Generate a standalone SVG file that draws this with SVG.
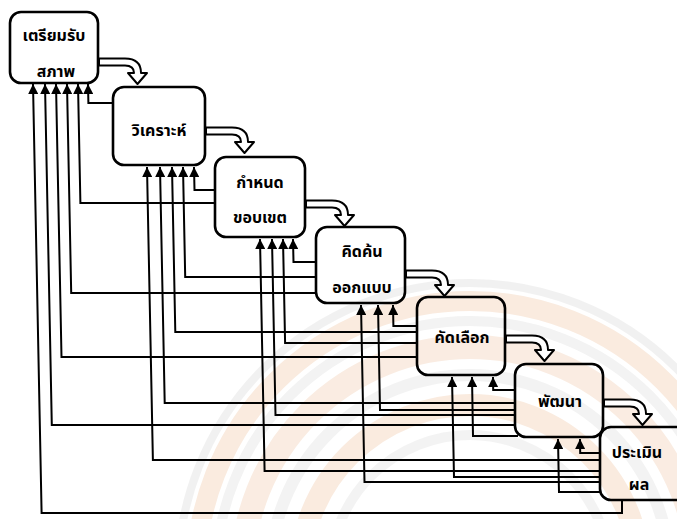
<svg xmlns="http://www.w3.org/2000/svg" width="677" height="519" viewBox="0 0 677 519">
<style>
.box{fill:none;stroke:#000;stroke-width:2.6}
.fb{fill:none;stroke:#000;stroke-width:2}
.lbl{font-family:"Noto Sans Thai","Noto Sans","DejaVu Sans",sans-serif;font-size:16px;font-weight:bold;text-anchor:middle;fill:#000}
.wm{fill:none}
</style>
<defs>
<marker id="ah" viewBox="0 0 10 10" refX="10" refY="5" markerWidth="11" markerHeight="10" markerUnits="userSpaceOnUse" orient="auto-start-reverse">
<path d="M0,0 L10,5 L0,10 z" fill="#000"/>
</marker>
<path id="flow" d="M0,-3.5 H26 Q42,-3.5 42,11 L48,11 L38.5,22 L29,11 L35,11 Q35,3.5 26,3.5 H0 Z" fill="#fff" stroke="#000" stroke-width="2" stroke-linejoin="round"/>
</defs>
<rect width="677" height="519" fill="#fff"/>
<g id="watermark" class="wm" opacity="0.7">
<circle cx="470" cy="575" r="292" stroke="#ececec" stroke-width="8"/>
<circle cx="470" cy="575" r="274" stroke="#f8e3d2" stroke-width="20"/>
<circle cx="470" cy="575" r="254" stroke="#eeeeee" stroke-width="10"/>
<circle cx="470" cy="575" r="228" stroke="#f8e5d6" stroke-width="24"/>
<circle cx="470" cy="575" r="200" stroke="#efefef" stroke-width="12"/>
<circle cx="470" cy="575" r="170" stroke="#f8e3d2" stroke-width="22"/>
<circle cx="470" cy="575" r="140" stroke="#efefef" stroke-width="10"/>
</g>
<g id="connectors">
<use href="#flow" transform="translate(99,62)"/>
<use href="#flow" transform="translate(206,131)"/>
<use href="#flow" transform="translate(306,204)"/>
<use href="#flow" transform="translate(406,274)"/>
<use href="#flow" transform="translate(506,339)"/>
<use href="#flow" transform="translate(604,403)"/>
<g marker-start="url(#ah)">
<path class="fb" d="M88,84 L88.4,103 L113,103"/>
<path class="fb" d="M78,84 L80.4,203 L215,203"/>
<path class="fb" d="M67,84 L71.2,293 L316,293"/>
<path class="fb" d="M56,84 L61.5,357 L417,357"/>
<path class="fb" d="M45,84 L51.8,425 L515,425"/>
<path class="fb" d="M33,84 L41.6,513 L622,513 L622,500"/>
<path class="fb" d="M194,167 L194.5,190 L215,190"/>
<path class="fb" d="M183,167 L185.2,277 L316,277"/>
<path class="fb" d="M172,167 L175.3,332 L417,332"/>
<path class="fb" d="M160,167 L164.7,403 L515,403"/>
<path class="fb" d="M147,167 L152.9,460 L600,460"/>
<path class="fb" d="M293,239 L293.5,262 L316,262"/>
<path class="fb" d="M283,239 L285.1,343 L417,343"/>
<path class="fb" d="M272,239 L275.5,415 L515,415"/>
<path class="fb" d="M260,239 L264.6,471 L600,471"/>
<path class="fb" d="M393,305 L393.4,326 L417,326"/>
<path class="fb" d="M378,305 L380,410 L515,410"/>
<path class="fb" d="M361,305 L364.5,482 L600,482"/>
<path class="fb" d="M493,377 L493.2,390 L515,390"/>
<path class="fb" d="M472,377 L473,436 L518,436"/>
<path class="fb" d="M452,377 L454,477 L600,477"/>
<path class="fb" d="M580,439 L580.2,453 L600,453"/>
<path class="fb" d="M558,439 L559,492 L600,492"/>
</g>
</g>
<g id="n1"><rect class="box" x="10" y="12" width="88" height="71" rx="11"/><text class="lbl" x="54" y="41">เตรียมรับ</text><text class="lbl" x="56" y="77">สภาพ</text></g>
<g id="n2"><rect class="box" x="113" y="87" width="92" height="78" rx="11"/><text class="lbl" x="159" y="136">วิเคราะห์</text></g>
<g id="n3"><rect class="box" x="215" y="157" width="90" height="80" rx="11"/><text class="lbl" x="260" y="188">กำหนด</text><text class="lbl" x="260" y="223">ขอบเขต</text></g>
<g id="n4"><rect class="box" x="316" y="227" width="89" height="76" rx="11"/><text class="lbl" x="362" y="257">คิดค้น</text><text class="lbl" x="362" y="293">ออกแบบ</text></g>
<g id="n5"><rect class="box" x="417" y="297" width="88" height="78" rx="11"/><text class="lbl" x="462" y="343">คัดเลือก</text></g>
<g id="n6"><rect class="box" x="515" y="364" width="88" height="73" rx="11"/><text class="lbl" x="560" y="407">พัฒนา</text></g>
<g id="n7"><rect class="box" x="600" y="427" width="100" height="73" rx="11"/><text class="lbl" x="637" y="458">ประเมิน</text><text class="lbl" x="639" y="490">ผล</text></g>
</svg>
